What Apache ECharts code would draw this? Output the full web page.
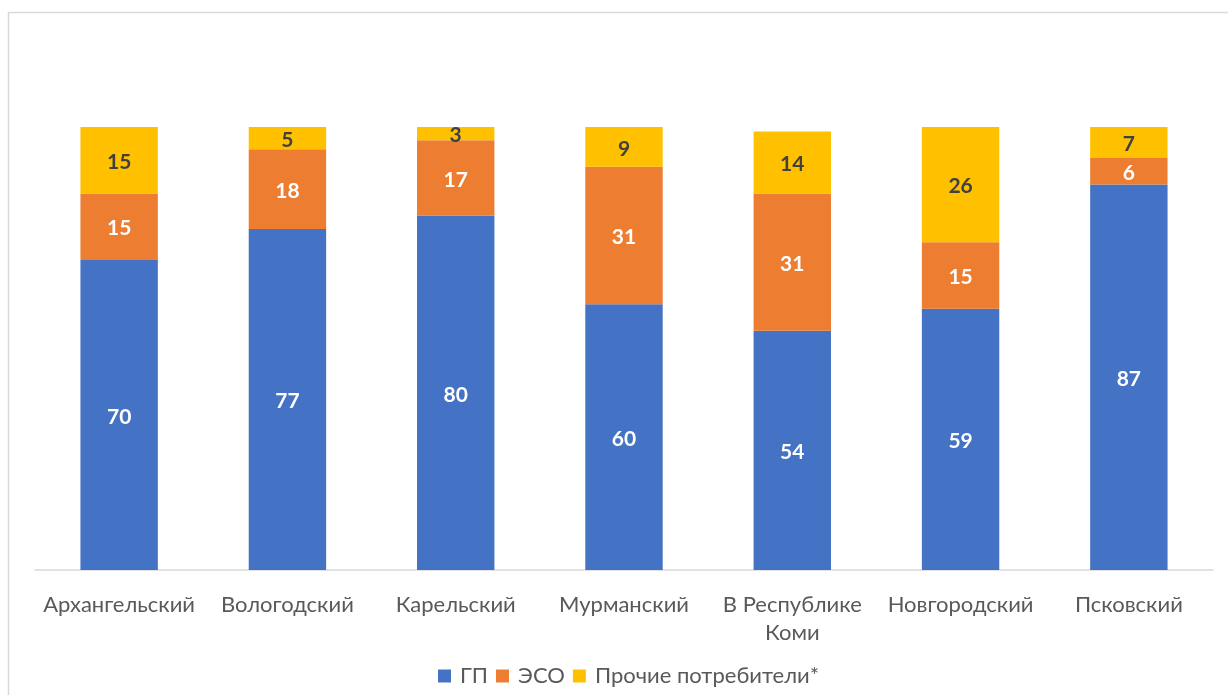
<!DOCTYPE html>
<html>
<head>
<meta charset="utf-8">
<script src="https://cdn.jsdelivr.net/npm/echarts@6/dist/echarts.min.js"></script>
<style>
  html, body { margin: 0; padding: 0; background: #fff; }
  #chart { width: 1228px; height: 695px; }
</style>
</head>
<body>
<div id="chart"></div>
<script>
var categories = ["Архангельский", "Вологодский", "Карельский", "Мурманский", "В Республике\nКоми", "Новгородский", "Псковский"];
var gpValues = [70, 77, 80, 60, 54, 59, 87];
var esoValues = [15, 18, 17, 31, 31, 15, 6];
var otherValues = [15, 5, 3, 9, 14, 26, 7];
var seriesNames = ["ГП", "ЭСО", "Прочие потребители*"];
var seriesColors = ["#4472C4", "#ED7D31", "#FFC000"];
var labelColors = ["#ffffff", "#ffffff", "#404040"];

var chart = echarts.init(document.getElementById("chart"));

var series = [gpValues, esoValues, otherValues].map(function (vals, i) {
  return {
    name: seriesNames[i],
    type: "bar",
    stack: "total",
    barWidth: "46%",
    itemStyle: { color: seriesColors[i] },
    label: {
      show: true,
      position: "inside",
      offset: [0, 2],
      color: labelColors[i],
      fontFamily: "Lato",
      fontWeight: "bold",
      fontSize: 21
    },
    data: vals
  };
});

chart.setOption({
  animation: false,
  textStyle: { fontFamily: "Lato" },
  graphic: [
    {
      type: "rect",
      shape: { x: 8.5, y: 12.5, width: 1240, height: 700 },
      style: { fill: "none", stroke: "#d9d9d9", lineWidth: 1.5 },
      silent: true
    }
  ],
  legend: {
    bottom: 3,
    left: 433,
    itemWidth: 13,
    itemHeight: 13,
    itemGap: 8,
    icon: "rect",
    textStyle: { color: "#595959", fontSize: 22, fontFamily: "Lato", padding: [0, 0, 0, 4] },
    data: seriesNames
  },
  grid: { left: 35, right: 15, top: 127, bottom: 125 },
  xAxis: {
    type: "category",
    data: categories,
    axisLine: { lineStyle: { color: "#d9d9d9", width: 1.5 } },
    axisTick: { show: false },
    axisLabel: {
      color: "#595959",
      fontSize: 22,
      fontFamily: "Lato",
      margin: 21,
      lineHeight: 28,
      interval: 0
    }
  },
  yAxis: {
    type: "value",
    min: 0,
    max: 100,
    show: false,
    splitLine: { show: false }
  },
  series: series
});
</script>
</body>
</html>
